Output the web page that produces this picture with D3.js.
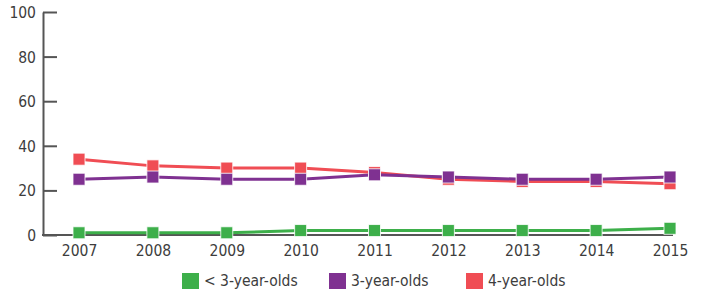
<!DOCTYPE html>
<html><head><meta charset="utf-8">
<script src="https://cdn.jsdelivr.net/npm/d3@7"></script>
<style>
body{margin:0;background:#fff;}
text{font-family:"Liberation Sans Narrow","DejaVu Sans Condensed","Roboto",sans-serif;fill:#3d3d3d;}
</style></head><body>
<svg id="c" width="703" height="295"></svg>
<script>
const years = ["2007","2008","2009","2010","2011","2012","2013","2014","2015"];
const under3 = [1,1,1,2,2,2,2,2,3];
const age3 = [25,26,25,25,27,26,25,25,26];
const age4 = [34,31,30,30,28,25,24,24,23];
const yTicks = [0,20,40,60,80,100];
const seriesNames = ["< 3-year-olds","3-year-olds","4-year-olds"];
const colors = ["#3daf4a","#7f3191","#f04d54"];

const svg = d3.select("#c");
const x = d3.scalePoint().domain(years).range([79,670]);
const y = d3.scaleLinear().domain([0,100]).range([235,12]);
const fs = 15.5;

// y axis
const ya = svg.append("g").attr("transform","translate(43,0)")
  .call(d3.axisRight(y).tickValues(yTicks).tickSize(14).tickSizeOuter(0).tickFormat(d3.format("d")));
ya.select(".domain").attr("stroke","#555").attr("stroke-width",2);
ya.selectAll(".tick line").attr("stroke","#555").attr("stroke-width",2);
ya.selectAll(".tick text").attr("x",-7).attr("text-anchor","end").attr("font-size",fs).attr("dy","0.35em");

// x axis
const xa = svg.append("g").attr("transform","translate(0,235)")
  .call(d3.axisBottom(x).tickSize(0).tickPadding(10));
xa.select(".domain").attr("d","M42,0H673").attr("stroke","#555").attr("stroke-width",2);
xa.selectAll(".tick text").attr("font-size",fs);

const data = [under3, age3, age4];
const order = [2,1,0];
order.forEach(i=>{
  const vals = data[i];
  const pts = years.map((yr,j)=>[x(yr), y(vals[j])]);
  svg.append("path").attr("d", d3.line()(pts)).attr("fill","none")
    .attr("stroke",colors[i]).attr("stroke-width",3);
});
order.forEach(i=>{
  const vals = data[i];
  svg.append("g").selectAll("rect").data(years).join("rect")
    .attr("x",d=>x(d)-6).attr("y",(d,j)=>y(vals[j])-6)
    .attr("width",12).attr("height",12)
    .attr("fill",colors[i]).attr("stroke","#fff").attr("stroke-opacity",0.8).attr("stroke-width",1);
});

// legend
const legX = [182,329,466];
seriesNames.forEach((n,i)=>{
  svg.append("rect").attr("x",legX[i]).attr("y",273).attr("width",17).attr("height",16).attr("fill",colors[i]);
  svg.append("text").attr("x",legX[i]+22).attr("y",281).attr("dy","0.35em").attr("font-size",fs).text(n);
});
</script></body></html>
